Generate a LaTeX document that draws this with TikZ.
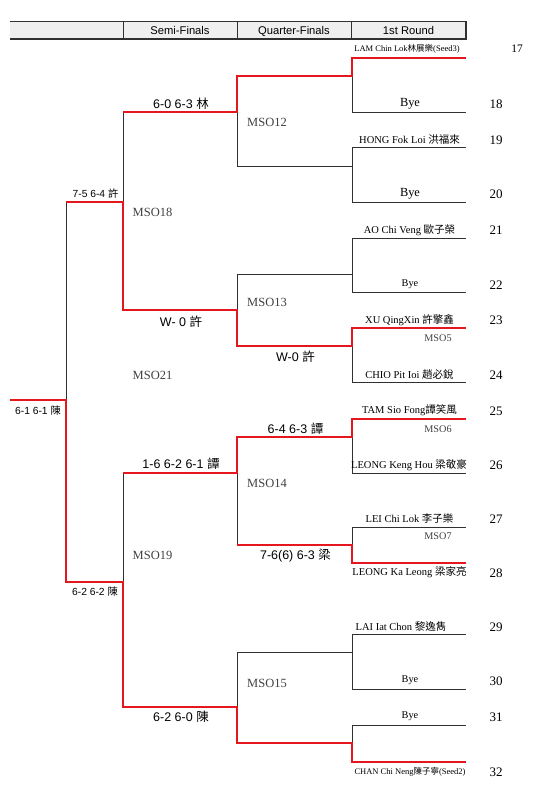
\documentclass[tikz,border=0pt]{standalone}
\usepackage{fontspec}
\setmainfont{Liberation Serif}
\setsansfont{Liberation Sans}
\newfontfamily\cjk{Noto Sans CJK TC}
\usetikzlibrary{calc}
\definecolor{winred}{RGB}{228,22,30}
\definecolor{linegray}{HTML}{303030}
\definecolor{headgray}{HTML}{EFEFEF}
\tikzset{
  lose/.style={draw=linegray,line width=1pt},
  win/.style={draw=winred,line width=2pt},
  pname/.style={font=\fontsize{10.5}{12}\selectfont,inner sep=0pt},
  seedname/.style={font=\fontsize{8.5}{10}\selectfont,inner sep=0pt},
  byebig/.style={font=\fontsize{12.4}{14}\selectfont,inner sep=0pt},
  byesmall/.style={font=\fontsize{10.3}{12}\selectfont,inner sep=0pt},
  seedno/.style={font=\fontsize{13}{15}\selectfont,inner sep=0pt},
  mso/.style={font=\fontsize{12.5}{14}\selectfont,text=black!75,anchor=west,inner sep=0pt},
  msosmall/.style={font=\fontsize{10.2}{12}\selectfont,text=black!75,inner sep=0pt},
  score/.style={font=\sffamily\fontsize{12.5}{14}\selectfont,inner sep=0pt},
  scoresmall/.style={font=\sffamily\fontsize{10.3}{12}\selectfont,inner sep=0pt},
  head/.style={font=\sffamily\fontsize{11.2}{13}\selectfont,inner sep=0pt,text height=8pt,text depth=0pt}
}
\begin{document}
\begin{tikzpicture}[x=1pt,y=-1pt]
  \useasboundingbox (0,0) rectangle (540,793);
  % header row
  \fill[headgray] (10,21) rectangle (466,39);
  \draw[linegray,line width=0.8pt] (10,21) -- (466,21);
  \foreach \x in {123,237,351}{\draw[linegray,line width=0.8pt] (\x,21) -- (\x,39);}
  \draw[linegray,line width=1.6pt] (466,21) -- (466,40);
  \draw[linegray,line width=2pt] (10,39) -- (467,39);
  \node[head] (hsemi) at (180,30) {Semi-Finals};
  \node[head] (hquarter) at (294,30) {Quarter-Finals};
  \node[head] (hfirst) at (408.5,30) {1st Round};
  % first round slots
  \foreach \n/\y in {17/58,18/112,19/147,20/202,21/238,22/292,23/328,24/382,
                     25/419,26/473,27/527,28/563,29/634,30/689,31/725,32/762}{
    \coordinate (p\n) at (466,\y);
    \coordinate (a\n) at (352,\y);
  }
  % joints
  \foreach \n/\y in {r1/76,r2/166,r3/274,r4/346,r5/437,r6/545,r7/652,r8/743}{\coordinate (\n) at (352,\y);}
  \coordinate (q12) at (237,112);
  \coordinate (q13) at (237,310);
  \coordinate (q14) at (237,473);
  \coordinate (q15) at (237,707);
  \coordinate (s18) at (123,202);
  \coordinate (s19) at (123,582);
  \coordinate (fin) at (66,400);
  \coordinate (champ) at (10,400);
  % losing lines
  \draw[lose] (r1) -- (a18) -- (p18);
  \draw[lose] (p19) -- (a19) -- (a20) -- (p20);
  \draw[lose] (r2) -- (r2 -| q12) -- (q12);
  \draw[lose] (p21) -- (a21) -- (a22) -- (p22);
  \draw[lose] (r3) -- (r3 -| q13) -- (q13);
  \draw[lose] (r4) -- (a24) -- (p24);
  \draw[lose] (r5) -- (a26) -- (p26);
  \draw[lose] (p27) -- (a27) -- (r6);
  \draw[lose] (p29) -- (a29) -- (a30) -- (p30);
  \draw[lose] (r7) -- (r7 -| q15) -- (q15);
  \draw[lose] (p31) -- (a31) -- (r8);
  \draw[lose] (q14) -- (r6 -| q14);
  \draw[lose] (q12 -| s18) -- (s18);
  \draw[lose] (q14 -| s19) -- (s19);
  \draw[lose] (s18 -| fin) -- (fin);
  % winners' paths
  \draw[win] (p17) -- (a17) -- (r1) -- (r1 -| q12) -- (q12) -- (q12 -| s18);
  \draw[win] (p23) -- (a23) -- (r4) -- (r4 -| q13) -- (q13) -- (q13 -| s18) -- (s18) -- (s18 -| fin);
  \draw[win] (p25) -- (a25) -- (r5) -- (r5 -| q14) -- (q14) -- (q14 -| s19);
  \draw[win] (p28) -- (a28) -- (r6) -- (r6 -| q14);
  \draw[win] (p32) -- (a32) -- (r8) -- (r8 -| q15) -- (q15) -- (q15 -| s19) -- (s19) -- (s19 -| fin) -- (fin) -- (champ);
  % players
  \node[seedname] (n17) at (407,49) {LAM Chin Lok{\cjk 林展樂}(Seed3)};
  \node[byebig] (n18) at (410,104) {Bye};
  \node[pname] (n19) at (409.5,140) {HONG Fok Loi {\cjk 洪福來}};
  \node[byebig] (n20) at (410,194) {Bye};
  \node[pname] (n21) at (409.5,230) {AO Chi Veng {\cjk 歐子榮}};
  \node[byesmall] (n22) at (410,284) {Bye};
  \node[pname] (n23) at (409.5,320) {XU QingXin {\cjk 許擎鑫}};
  \node[pname] (n24) at (409.5,374) {CHIO Pit Ioi {\cjk 趙必銳}};
  \node[pname] (n25) at (409.5,410.5) {TAM Sio Fong{\cjk 譚笑風}};
  \node[pname] (n26) at (409,465) {LEONG Keng Hou {\cjk 梁敬豪}};
  \node[pname] (n27) at (409.5,518) {LEI Chi Lok {\cjk 李子樂}};
  \node[pname] (n28) at (409.5,572.5) {LEONG Ka Leong {\cjk 梁家亮}};
  \node[pname] (n29) at (401,626.5) {LAI Iat Chon {\cjk 黎逸雋}};
  \node[byesmall] (n30) at (410,680.5) {Bye};
  \node[byesmall] (n31) at (410,716.5) {Bye};
  \node[seedname] (n32) at (410,771.5) {CHAN Chi Neng{\cjk 陳子寧}(Seed2)};
  \node[msosmall] (m5) at (438,338) {MSO5};
  \node[msosmall] (m6) at (438,429) {MSO6};
  \node[msosmall] (m7) at (438,536.5) {MSO7};
  % draw numbers
  \node[seedno,font=\fontsize{11.5}{13}\selectfont] (no17) at (517,49) {17};
  \foreach \n/\y in {18/104,19/140,20/194,21/230.5,22/285,23/320.5,24/375,25/411,
                     26/465.5,27/519,28/573,29/627,30/681.5,31/717,32/772}{
    \node[seedno] (no\n) at (496,\y) {\n};
  }
  % matches
  \node[mso] (mso12) at (247,122) {MSO12};
  \node[mso] (mso13) at (247,302.5) {MSO13};
  \node[mso] (mso14) at (247,483) {MSO14};
  \node[mso] (mso15) at (247,683) {MSO15};
  \node[mso] (mso18) at (132.5,212.5) {MSO18};
  \node[mso] (mso19) at (132.5,555.5) {MSO19};
  \node[mso] (mso21) at (132.5,375.5) {MSO21};
  % results
  \node[score] (res12) at (181,104) {6-0 6-3 {\cjk 林}};
  \node[score] (res5) at (295.5,357) {W-0 {\cjk 許}};
  \node[score] (res13) at (181,321.5) {W- 0 {\cjk 許}};
  \node[scoresmall] (res18) at (95.5,194) {7-5 6-4 {\cjk 許}};
  \node[scoresmall] (res21) at (38,410.5) {6-1 6-1 {\cjk 陳}};
  \node[score] (res6) at (295.5,429) {6-4 6-3 {\cjk 譚}};
  \node[score] (res14) at (181,464) {1-6 6-2 6-1 {\cjk 譚}};
  \node[score] (res7) at (295.5,555.5) {7-6(6) 6-3 {\cjk 梁}};
  \node[scoresmall] (res19) at (95,592) {6-2 6-2 {\cjk 陳}};
  \node[score] (res15) at (181,716.5) {6-2 6-0 {\cjk 陳}};
\end{tikzpicture}
\end{document}
